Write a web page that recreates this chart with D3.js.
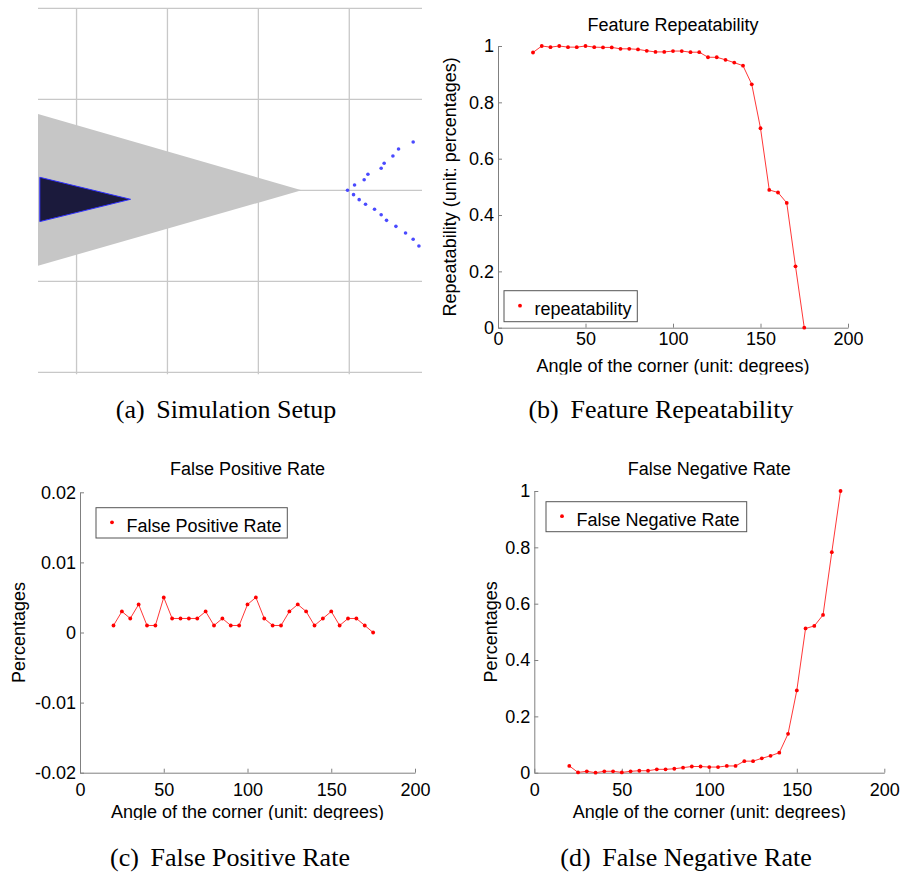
<!DOCTYPE html>
<html>
<head>
<meta charset="utf-8">
<script src="https://cdn.jsdelivr.net/npm/d3@7"></script>
<style>
  body { margin: 0; background: #fff; }
</style>
</head>
<body>
<script>
// corner angles used in the simulation (degrees)
var angles = [20, 25, 30, 35, 40, 45, 50, 55, 60, 65, 70, 75, 80, 85, 90, 95,
              100, 105, 110, 115, 120, 125, 130, 135, 140, 145, 150, 155, 160, 165, 170, 175];

var repeatability = [0.977, 1.0, 0.996, 1.0, 0.996, 0.996, 1.0, 0.996, 0.995, 0.995, 0.99, 0.99,
                     0.988, 0.983, 0.979, 0.979, 0.982, 0.982, 0.978, 0.978, 0.96, 0.96, 0.951, 0.941,
                     0.93, 0.864, 0.708, 0.489, 0.48, 0.443, 0.218, 0.0];

var falsePositive = [0.001, 0.003, 0.002, 0.004, 0.001, 0.001, 0.005, 0.002, 0.002, 0.002, 0.002, 0.003,
                     0.001, 0.002, 0.001, 0.001, 0.004, 0.005, 0.002, 0.001, 0.001, 0.003, 0.004, 0.003,
                     0.001, 0.002, 0.003, 0.001, 0.002, 0.002, 0.001, 0.0];

var falseNegative = [0.024, 0.001, 0.005, 0.0, 0.005, 0.005, 0.001, 0.005, 0.007, 0.007, 0.012, 0.012,
                     0.014, 0.018, 0.022, 0.022, 0.02, 0.02, 0.024, 0.024, 0.041, 0.041, 0.051, 0.06,
                     0.071, 0.138, 0.292, 0.512, 0.521, 0.56, 0.783, 1.0];

var xTicks = [0, 50, 100, 150, 200];
var repTicks = [0, 0.2, 0.4, 0.6, 0.8, 1];
var fpTicks = [-0.02, -0.01, 0, 0.01, 0.02];
var fnTicks = [0, 0.2, 0.4, 0.6, 0.8, 1];

// simulation setup, in grid units
var gridX = [0, 1, 2, 3];
var gridY = [-2, -1, 0, 1, 2];
var simX = [-0.424, 3.8];
var simY = [-2, 2];
var fovTriangle = [[-0.424, 0.838], [-0.424, -0.829], [2.475, 0]];
var robotTriangle = [[-0.404, 0.143], [-0.404, -0.344], [0.594, -0.099]];
var cornerX = [2.981, 3.058, 3.164, 3.205, 3.351, 3.384, 3.480, 3.542, 3.703,
               3.047, 3.109, 3.179, 3.278, 3.351, 3.410, 3.513, 3.619, 3.703, 3.766];
var cornerY = [0, 0.058, 0.116, 0.176, 0.242, 0.297, 0.377, 0.454, 0.531,
               -0.048, -0.103, -0.154, -0.209, -0.268, -0.330, -0.396, -0.469, -0.538, -0.612];

var captions = [["(a)", "Simulation Setup"], ["(b)", "Feature Repeatability"],
                ["(c)", "False Positive Rate"], ["(d)", "False Negative Rate"]];

var sans = "'Liberation Sans', Arial, sans-serif";
var serif = "'Liberation Serif', 'Times New Roman', serif";

var svg = d3.select("body").append("svg")
    .attr("width", 901)
    .attr("height", 872)
    .style("background", "#fff");

// ---- (a) simulation setup ----
var sx = d3.scaleLinear().domain(simX).range([38, 422]);
var sy = d3.scaleLinear().domain(simY).range([372.3, 8.3]);
var a = svg.append("g");

a.selectAll("line.gv").data(gridX).enter().append("line")
  .attr("class", "gv")
  .attr("x1", function (d) { return sx(d); })
  .attr("x2", function (d) { return sx(d); })
  .attr("y1", sy(simY[1]))
  .attr("y2", sy(simY[0]) + 2)
  .attr("stroke", "#c8c8c8").attr("stroke-width", 1.3);

a.selectAll("line.gh").data(gridY).enter().append("line")
  .attr("class", "gh")
  .attr("x1", sx(simX[0]))
  .attr("x2", sx(simX[1]))
  .attr("y1", function (d) { return sy(d); })
  .attr("y2", function (d) { return sy(d); })
  .attr("stroke", "#c8c8c8").attr("stroke-width", 1.3);

var tri = d3.line().x(function (d) { return sx(d[0]); }).y(function (d) { return sy(d[1]); });

a.append("path")
  .attr("d", tri(fovTriangle) + "Z")
  .attr("fill", "#c6c6c6");

a.append("path")
  .attr("d", tri(robotTriangle) + "Z")
  .attr("fill", "#1b1a3c")
  .attr("stroke", "#3030ff")
  .attr("stroke-width", 1);

a.selectAll("circle").data(cornerX).enter().append("circle")
  .attr("cx", function (d) { return sx(d); })
  .attr("cy", function (d, i) { return sy(cornerY[i]); })
  .attr("r", 1.8)
  .attr("fill", "#4a4aff");

// ---- line plots ----
function plot(o) {
  var x = d3.scaleLinear().domain([0, 200]).range([o.left, o.right]);
  var y = d3.scaleLinear().domain(o.yDomain).range([o.bottom, o.top]);
  var g = svg.append("g");

  var clipId = "clip" + o.id;
  svg.append("clipPath").attr("id", clipId)
    .append("rect").attr("x", o.left - 80).attr("y", 0)
    .attr("width", 500).attr("height", o.clipY);

  var xa = g.append("g")
    .attr("transform", "translate(0," + o.bottom + ")")
    .call(d3.axisBottom(x).tickValues(xTicks).tickSize(-4).tickSizeOuter(0).tickPadding(o.xPad));
  var ya = g.append("g")
    .attr("transform", "translate(" + o.left + ",0)")
    .call(d3.axisLeft(y).tickValues(o.yTicks).tickSize(-4).tickSizeOuter(0).tickPadding(4)
      .tickFormat(function (d) { return String(+d.toFixed(3)); }));

  [xa, ya].forEach(function (ax) {
    ax.select(".domain").attr("stroke", "#808080");
    ax.selectAll(".tick line").attr("stroke", "#808080");
    ax.selectAll("text").attr("fill", "#000")
      .style("font-family", sans).style("font-size", "18px");
  });

  var line = d3.line()
    .x(function (d, i) { return x(angles[i]); })
    .y(function (d) { return y(d); });

  g.append("path")
    .datum(o.values)
    .attr("d", line)
    .attr("fill", "none")
    .attr("stroke", "#ff2020")
    .attr("stroke-width", 0.9);

  g.selectAll("circle.pt").data(o.values).enter().append("circle")
    .attr("class", "pt")
    .attr("cx", function (d, i) { return x(angles[i]); })
    .attr("cy", function (d) { return y(d); })
    .attr("r", 1.9)
    .attr("fill", "#ff0000");

  g.append("text")
    .attr("x", (o.left + o.right) / 2)
    .attr("y", o.titleY)
    .attr("text-anchor", "middle")
    .style("font-family", sans).style("font-size", "18px")
    .text(o.title);

  g.append("text")
    .attr("transform", "translate(" + o.ylabelX + "," + (o.top + o.bottom) / 2 + ") rotate(-90)")
    .attr("text-anchor", "middle")
    .style("font-family", sans).style("font-size", "18px")
    .text(o.ylabel);

  g.append("text")
    .attr("clip-path", "url(#" + clipId + ")")
    .attr("x", (o.left + o.right) / 2)
    .attr("y", o.xlabelY)
    .attr("text-anchor", "middle")
    .style("font-family", sans).style("font-size", "18px")
    .text("Angle of the corner (unit: degrees)");

  var L = o.legend;
  g.append("rect")
    .attr("x", L.x).attr("y", L.y).attr("width", L.w).attr("height", L.h)
    .attr("fill", "#fff").attr("stroke", "#555").attr("stroke-width", 1);
  g.append("circle")
    .attr("cx", L.x + 16).attr("cy", L.y + L.h / 2 - 0.5).attr("r", 1.9).attr("fill", "#ff0000");
  g.append("text")
    .attr("x", L.x + 30.5).attr("y", L.y + L.h / 2 + 9)
    .style("font-family", sans).style("font-size", "18px")
    .text(o.legendText);
}

plot({
  id: "b", left: 498, right: 848, top: 46, bottom: 327.7,
  yDomain: [0, 1], yTicks: repTicks, values: repeatability, xPad: 5,
  title: "Feature Repeatability", titleY: 30.7,
  ylabel: "Repeatability (unit: percentages)", ylabelX: 456,
  xlabelY: 372, clipY: 374.5,
  legend: { x: 504, y: 290.7, w: 133.3, h: 31 }, legendText: "repeatability"
});

plot({
  id: "c", left: 80, right: 415, top: 492.3, bottom: 772.7,
  yDomain: [-0.02, 0.02], yTicks: fpTicks, values: falsePositive, xPad: 10.6,
  title: "False Positive Rate", titleY: 475,
  ylabel: "Percentages", ylabelX: 24.6,
  xlabelY: 818, clipY: 820,
  legend: { x: 96, y: 507.7, w: 191.3, h: 30.3 }, legendText: "False Positive Rate"
});

plot({
  id: "d", left: 534.3, right: 884.3, top: 491, bottom: 772.7,
  yDomain: [0, 1], yTicks: fnTicks, values: falseNegative, xPad: 10.6,
  title: "False Negative Rate", titleY: 475,
  ylabel: "Percentages", ylabelX: 497,
  xlabelY: 818, clipY: 820,
  legend: { x: 546, y: 501.7, w: 200.7, h: 30 }, legendText: "False Negative Rate"
});

// ---- sub-figure captions ----
var capPos = [[226, 418], [661, 418], [230, 866], [686, 866]];
captions.forEach(function (c, i) {
  var t = svg.append("text")
    .attr("x", capPos[i][0]).attr("y", capPos[i][1])
    .attr("text-anchor", "middle")
    .style("font-family", serif).style("font-size", "26px");
  t.append("tspan").text(c[0]);
  t.append("tspan").attr("dx", "0.45em").text(c[1]);
});
</script>
</body>
</html>
